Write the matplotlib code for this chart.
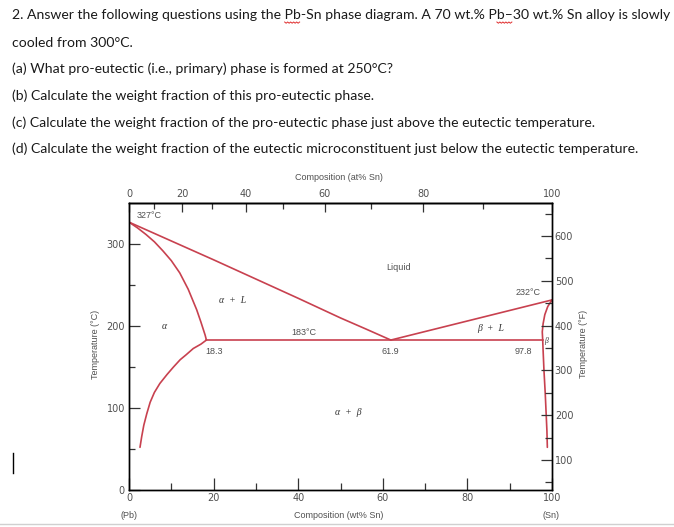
import numpy as np
import matplotlib
matplotlib.use('Agg')
import matplotlib.pyplot as plt
from matplotlib.lines import Line2D

W, H = 674, 527

# текст задачи
question = [
    '2. Answer the following questions using the Pb-Sn phase diagram. A 70 wt.% Pb\u201330 wt.% Sn alloy is slowly',
    'cooled from 300\u00b0C.',
    '(a) What pro-eutectic (i.e., primary) phase is formed at 250\u00b0C?',
    '(b) Calculate the weight fraction of this pro-eutectic phase.',
    '(c) Calculate the weight fraction of the pro-eutectic phase just above the eutectic temperature.',
    '(d) Calculate the weight fraction of the eutectic microconstituent just below the eutectic temperature.',
]
baselines = [19, 47, 73, 100, 127, 153]

# диаграмма Pb-Sn (wt% Sn, °C)
T_PB, T_SN, T_EUT = 327, 232, 183
C_ALPHA, C_EUT, C_BETA = 18.3, 61.9, 97.8

liq_left_wt = [0, 10, 20, 30, 40, 50, 56, 61.9]
liq_left_T = [327, 304, 281, 257.5, 234, 210, 196.5, 183]
liq_right_wt = [61.9, 100]
liq_right_T = [183, 232]
sol_alpha_wt = [0, 2, 4, 6, 8, 10, 12, 14, 16, 17, 18, 18.3]
sol_alpha_T = [327, 320, 312, 303, 292, 280, 265, 245, 220, 205, 189, 183]
solv_alpha_wt = [18.3, 17, 15.2, 13.5, 12.1, 10.5, 9, 7.3, 6, 5, 4.2, 3.5, 3.0, 2.6]
solv_alpha_T = [183, 178, 172.7, 165, 159, 150, 141, 130, 119, 107, 93, 79, 65, 52]
sol_beta_wt = [100, 99.0, 98.3, 97.9, 97.7, 97.8]
sol_beta_T = [232, 224, 214, 203, 193, 183]
solv_beta_wt = [97.8, 97.9, 98.1, 98.4, 98.6, 98.8, 98.9]
solv_beta_T = [183, 170, 146, 118, 95, 72, 52]

wt_ticks = [0, 20, 40, 60, 80, 100]
at_ticks = [0, 20, 40, 60, 80, 100]
c_ticks = [0, 100, 200, 300]
f_ticks = [100, 200, 300, 400, 500, 600]

M_SN, M_PB = 118.71, 207.2
LINE = '#c8414f'
GREY = '#505050'


def wt_to_at(w):
    w = np.asarray(w, dtype=float)
    return 100 * (w / M_SN) / (w / M_SN + (100 - w) / M_PB)


def at_to_wt(a):
    a = np.asarray(a, dtype=float)
    return 100 * a * M_SN / (a * M_SN + (100 - a) * M_PB)


def px(x, y):
    return x / W, 1 - y / H


fig = plt.figure(figsize=(W / 100, H / 100), dpi=100)

# --- текст вопроса ---
qfont = dict(family='Lato', color='#1a1a1a')
probe = fig.text(0, 0, question[0], fontsize=10, **qfont)
fig.canvas.draw()
r = fig.canvas.get_renderer()
fs = 10 * 655 / probe.get_window_extent(r).width
probe.remove()

for line, yb in zip(question, baselines):
    fig.text(*px(12, yb), line, fontsize=fs, va='baseline', **qfont)


# волнистое подчеркивание под "Pb"
def squiggle(prefix, word, yb):
    t1 = fig.text(0, 0, prefix, fontsize=fs, **qfont)
    t2 = fig.text(0, 0, word, fontsize=fs, **qfont)
    x0 = 12 + t1.get_window_extent(r).width
    w = t2.get_window_extent(r).width
    t1.remove()
    t2.remove()
    xs = np.arange(x0, x0 + w + 0.1, 1.5)
    ys = yb + 3 + np.where(np.arange(len(xs)) % 2 == 0, 0, 1.2)
    fig.add_artist(Line2D(xs / W, 1 - ys / H, color='#e03030', lw=0.7))


squiggle('2. Answer the following questions using the ', 'Pb', baselines[0])
squiggle(question[0][:76], 'Pb', baselines[0])

# курсор и нижняя граница
fig.add_artist(Line2D([13 / W, 13 / W], [1 - 453 / H, 1 - 473 / H], color='black', lw=1))
fig.add_artist(Line2D([0, 1], [1 - 523.5 / H, 1 - 523.5 / H], color='#d0d0d0', lw=1))

# --- диаграмма ---
left, right, top, bottom = 129, 552, 203.3, 489.9
ax = fig.add_axes([left / W, 1 - bottom / H, (right - left) / W, (bottom - top) / H])
ax.set_xlim(0, 100)
ax.set_ylim(0, 350)

for xs, ys in [(liq_left_wt, liq_left_T), (liq_right_wt, liq_right_T),
               (sol_alpha_wt, sol_alpha_T), (solv_alpha_wt, solv_alpha_T),
               (sol_beta_wt, sol_beta_T), (solv_beta_wt, solv_beta_T),
               ([C_ALPHA, C_BETA], [T_EUT, T_EUT])]:
    ax.plot(xs, ys, color=LINE, lw=1.2, solid_capstyle='round', solid_joinstyle='round')

for s in ax.spines.values():
    s.set_linewidth(1.0)

ax.set_xticks(wt_ticks)
ax.set_xticks([10, 30, 50, 70, 90], minor=True)
ax.set_yticks(c_ticks)
ax.set_yticks([50, 150, 250], minor=True)
ax.tick_params(axis='x', which='major', direction='in', length=8.4, width=0.9,
               color='#333333', labelsize=7, labelcolor=GREY, pad=2.5)
ax.tick_params(axis='x', which='minor', direction='in', length=5.3, width=0.9, color='#333333')
ax.tick_params(axis='y', which='major', direction='in', length=7.7, width=0.9,
               color='#333333', labelsize=7, labelcolor=GREY, pad=3)
ax.tick_params(axis='y', which='minor', direction='in', length=4.0, width=0.9, color='#333333')

ax2 = ax.twinx()
ax2.set_ylim(33.3, 673)
ax2.set_yticks(f_ticks)
ax2.set_yticks([50, 150, 250, 350, 450, 550, 650], minor=True)
ax2.tick_params(axis='y', which='major', direction='in', length=8, width=0.9,
                color='#333333', labelsize=7, labelcolor=GREY, pad=2)
ax2.tick_params(axis='y', which='minor', direction='in', length=5, width=0.9, color='#333333')
for s in ax2.spines.values():
    s.set_linewidth(1.0)

sec = ax.secondary_xaxis('top', functions=(wt_to_at, at_to_wt))
sec.set_xticks(at_ticks)
sec.set_xticks([10, 30, 50, 70, 90], minor=True)
sec.tick_params(axis='x', which='major', direction='in', length=6.7, width=0.9,
                color='#333333', labelsize=7, labelcolor=GREY, pad=3)
sec.tick_params(axis='x', which='minor', direction='in', length=4.3, width=0.9, color='#333333')
sec.spines['top'].set_linewidth(1.0)

# подписи на диаграмме
small = dict(fontsize=6.5, color=GREY, family='Liberation Sans', ha='center', va='center')
greek = dict(fontsize=7, color='#333333', family='Liberation Serif', style='italic',
             ha='center', va='center')
ax.text(1.7, 335, '327\u00b0C', ha='left', va='center', fontsize=6.5, color=GREY, family='Liberation Sans')
ax.text(63.7, 271.8, 'Liquid', **small)
ax.text(94.3, 241, '232\u00b0C', **small)
ax.text(41.4, 192.6, '183\u00b0C', **small)
ax.text(C_ALPHA + 1.8, 169.4, f'{C_ALPHA}', **small)
ax.text(C_EUT - 0.2, 169.4, f'{C_EUT}', **small)
ax.text(C_BETA - 4.5, 169.4, f'{C_BETA}', **small)
ax.text(24.4, 231, '\u03b1  +  L', **greek)
ax.text(8.3, 200, '\u03b1', **greek)
ax.text(85.4, 197, '\u03b2  +  L', **greek)
ax.text(51.8, 94.4, '\u03b1  +  \u03b2', **greek)
ax.text(98.6, 182, '\u03b2', fontsize=5.5, color='#333333', family='Liberation Serif',
        style='italic', ha='center', va='center')

lab = dict(fontsize=6.5, color=GREY, family='Liberation Sans', ha='center', va='center')
fig.text(*px(339, 178), 'Composition (at% Sn)', **lab)
fig.text(*px(339, 515), 'Composition (wt% Sn)', **lab)
fig.text(*px(129, 515.5), '(Pb)', **lab)
fig.text(*px(551.3, 515.5), '(Sn)', **lab)
fig.text(*px(95, 344), 'Temperature (\u00b0C)', rotation=90, **lab)
fig.text(*px(584, 344), 'Temperature (\u00b0F)', rotation=90, **lab)

fig.savefig('out.png', dpi=100)
